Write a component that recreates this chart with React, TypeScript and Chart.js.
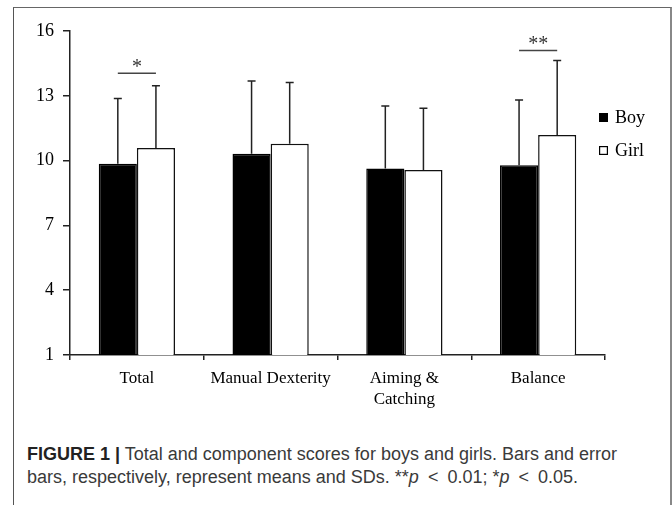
import React, { useEffect, useRef } from "react";
import { Chart, registerables } from "chart.js";

Chart.register(...registerables);

const categories: (string | string[])[] = ["Total", "Manual Dexterity", ["Aiming &", "Catching"], "Balance"];
const seriesNames = ["Boy", "Girl"];
const boyMeans = [9.85, 10.32, 9.63, 9.78];
const girlMeans = [10.58, 10.78, 9.57, 11.18];
const boySD = [3.02, 3.36, 2.9, 3.03];
const girlSD = [2.89, 2.84, 2.85, 3.45];
const yTicks = [1, 4, 7, 10, 13, 16];
const sigCategory = [0, 3];
const sigMarks = ["*", "**"];
const sigLevel = [14.04, 15.1];

const SERIF = "'Liberation Serif', 'Times New Roman', serif";

const errorBarPlugin = {
  id: "errorBars",
  afterDatasetsDraw(chart: any) {
    const ctx = chart.ctx;
    const yScale = chart.scales.y;
    const sds = [boySD, girlSD];
    const means = [boyMeans, girlMeans];
    ctx.save();
    ctx.strokeStyle = "#222";
    ctx.lineWidth = 1.5;
    for (let d = 0; d < 2; d++) {
      const meta = chart.getDatasetMeta(d);
      meta.data.forEach((bar: any, i: number) => {
        const x = bar.x;
        const yTop = yScale.getPixelForValue(means[d][i] + sds[d][i]);
        ctx.beginPath();
        ctx.moveTo(x, bar.y);
        ctx.lineTo(x, yTop);
        ctx.moveTo(x - 4, yTop);
        ctx.lineTo(x + 4, yTop);
        ctx.stroke();
      });
    }
    // significance brackets
    const m0 = chart.getDatasetMeta(0);
    const m1 = chart.getDatasetMeta(1);
    ctx.strokeStyle = "#444";
    ctx.fillStyle = "#333";
    ctx.font = `20px ${SERIF}`;
    ctx.textAlign = "center";
    ctx.textBaseline = "alphabetic";
    sigCategory.forEach((ci, k) => {
      const x1 = m0.data[ci].x;
      const x2 = m1.data[ci].x;
      const y = yScale.getPixelForValue(sigLevel[k]);
      ctx.beginPath();
      ctx.moveTo(x1, y);
      ctx.lineTo(x2, y);
      ctx.stroke();
      ctx.fillText(sigMarks[k], (x1 + x2) / 2, y);
    });
    ctx.restore();
  },
};

const legendPlugin = {
  id: "customLegend",
  afterDraw(chart: any) {
    const ctx = chart.ctx;
    const area = chart.chartArea;
    const x0 = area.right - 6;
    const ys = [113, 146];
    ctx.save();
    chart.data.datasets.forEach((ds: any, i: number) => {
      const y = ys[i];
      ctx.fillStyle = ds.backgroundColor;
      ctx.fillRect(x0, y, 9, 9);
      ctx.strokeStyle = "#000";
      ctx.lineWidth = 1.2;
      ctx.strokeRect(x0 + 0.6, y + 0.6, 7.8, 7.8);
      ctx.fillStyle = "#000";
      ctx.font = `18px ${SERIF}`;
      ctx.textAlign = "left";
      ctx.textBaseline = "middle";
      ctx.fillText(ds.label, x0 + 16, y + 5);
    });
    ctx.restore();
  },
};

export default function App() {
  const ref = useRef<HTMLCanvasElement | null>(null);
  useEffect(() => {
    if (!ref.current) return;
    const chart = new Chart(ref.current, {
      type: "bar",
      data: {
        labels: categories as any,
        datasets: [
          {
            label: seriesNames[0],
            data: boyMeans,
            backgroundColor: "#000",
            borderColor: "#000",
            borderWidth: 1.5,
            categoryPercentage: 0.57,
            barPercentage: 1.0,
          },
          {
            label: seriesNames[1],
            data: girlMeans,
            backgroundColor: "#fff",
            borderColor: "#111",
            borderWidth: 1.5,
            categoryPercentage: 0.57,
            barPercentage: 1.0,
          },
        ],
      },
      options: {
        animation: false,
        responsive: true,
        maintainAspectRatio: false,
        layout: { padding: { top: 31, right: 67, left: 0, bottom: 0 } },
        plugins: { legend: { display: false }, tooltip: { enabled: false } },
        scales: {
          x: {
            ticks: {
              color: "#000",
              font: { family: SERIF, size: 17, lineHeight: 1.25 },
              padding: 8,
              maxRotation: 0,
              autoSkip: false,
            },
            grid: { drawOnChartArea: false, tickLength: 5, color: "#222", lineWidth: 1.5 },
            border: { display: true, color: "#222", width: 1.5 },
            afterFit: (s: any) => {
              s.height = 75;
            },
          },
          y: {
            min: yTicks[0],
            max: yTicks[yTicks.length - 1],
            afterBuildTicks: (s: any) => {
              s.ticks = yTicks.map((v) => ({ value: v }));
            },
            ticks: {
              color: "#000",
              font: { family: SERIF, size: 18 },
              padding: 9,
            },
            grid: { drawOnChartArea: false, tickLength: 7, color: "#222", lineWidth: 1.5 },
            border: { display: true, color: "#222", width: 1.5 },
            afterFit: (s: any) => {
              s.width = 70;
            },
          },
        },
      },
      plugins: [errorBarPlugin, legendPlugin],
    });
    return () => chart.destroy();
  }, []);

  const lt = <span style={{ margin: "0 4px" }}>&lt;</span>;

  return (
    <div style={{ position: "fixed", left: 0, top: 0, width: 672, height: 505, background: "#fff", overflow: "hidden" }}>
      <div
        style={{
          position: "absolute",
          left: 13,
          top: 7,
          width: 656,
          height: 520,
          borderLeft: "1.5px solid #555",
          borderTop: "1.5px solid #666",
          borderRight: "2px solid #888",
        }}
      />
      <div style={{ position: "absolute", left: 0, top: 0, width: 672, height: 430 }}>
        <canvas ref={ref} />
      </div>
      <div
        style={{
          position: "absolute",
          left: 27,
          top: 443,
          width: 645,
          fontFamily: "'Liberation Sans', Arial, sans-serif",
          fontSize: 18,
          lineHeight: "23px",
          color: "#3a3a3a",
          whiteSpace: "nowrap",
        }}
      >
        <div>
          <b style={{ color: "#222" }}>FIGURE 1 |</b> Total and component scores for boys and girls. Bars and error
        </div>
        <div>
          bars, respectively, represent means and SDs. **<i>p</i> {lt} 0.01; *<i>p</i> {lt} 0.05.
        </div>
      </div>
    </div>
  );
}
